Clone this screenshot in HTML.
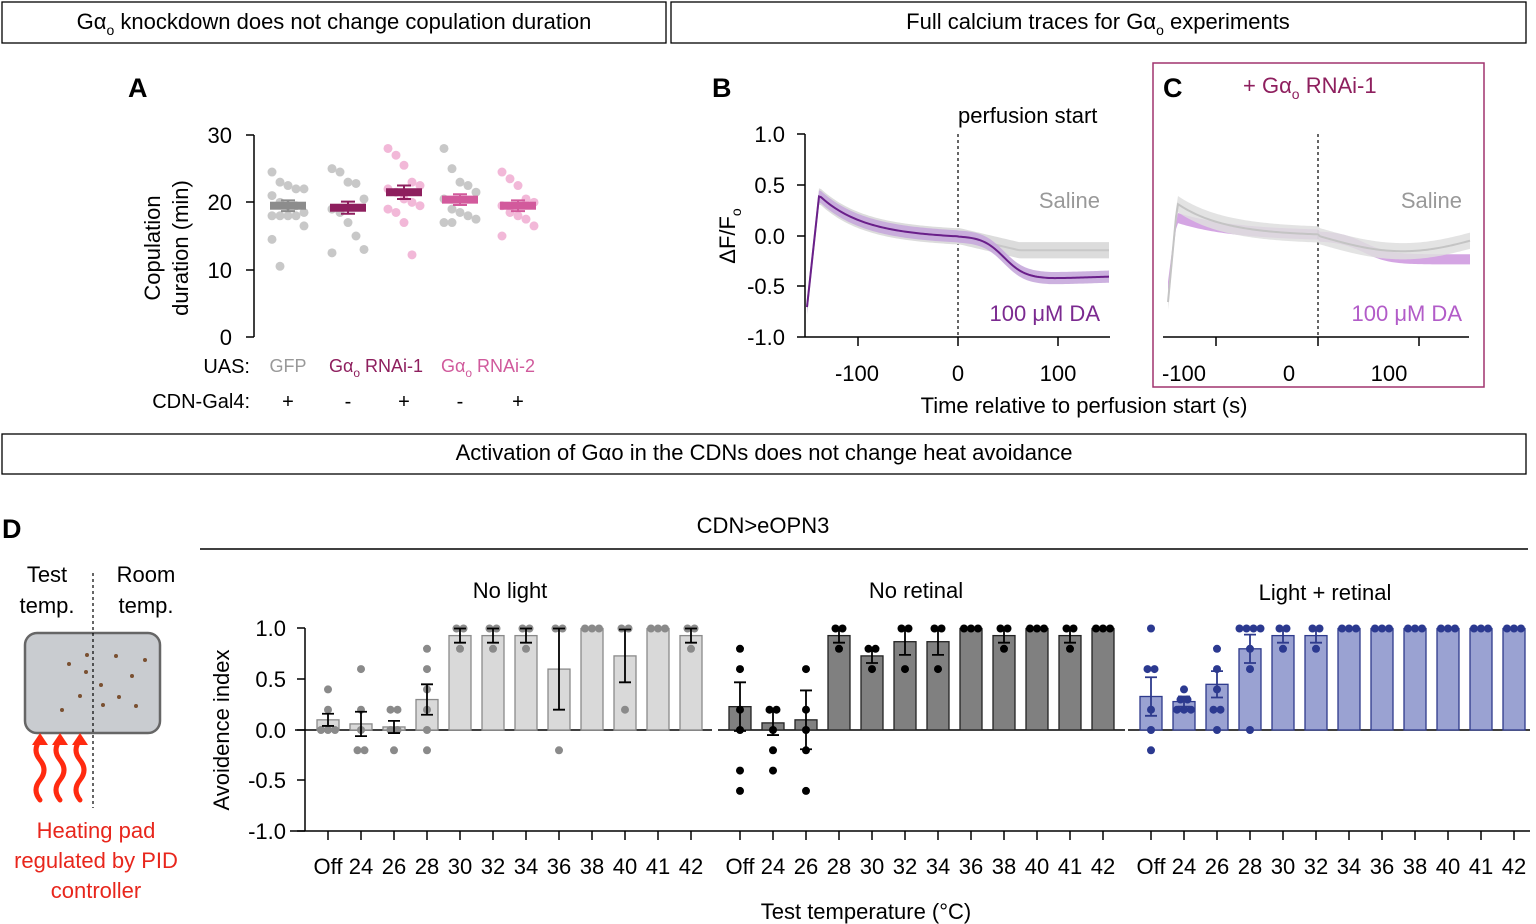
<!DOCTYPE html>
<html><head><meta charset="utf-8"><style>
body{margin:0;background:#fff;width:1536px;height:924px;overflow:hidden}
svg{display:block;font-family:"Liberation Sans",Arial,sans-serif}
</style></head><body>
<svg id="s" width="1536" height="924" viewBox="0 0 1536 924" xmlns="http://www.w3.org/2000/svg">
<g fill="none" stroke="#000" stroke-width="1.3">
<rect x="2" y="2" width="664" height="41"/>
<rect x="671" y="2" width="855" height="41"/>
<rect x="2" y="434" width="1524" height="40"/>
</g>
<g font-size="22" text-anchor="middle" fill="#000">
<text x="334" y="29">Gα<tspan font-size="14" dy="6">o</tspan><tspan dy="-6"> knockdown does not change copulation duration</tspan></text>
<text x="1098" y="29">Full calcium traces for Gα<tspan font-size="14" dy="6">o</tspan><tspan dy="-6"> experiments</tspan></text>
<text x="764" y="460">Activation of Gαo in the CDNs does not change heat avoidance</text>
</g>
<g font-size="27" font-weight="bold"><text x="128" y="97">A</text><text x="712" y="97">B</text><text x="1163" y="97">C</text><text x="2" y="538">D</text></g>
<!-- Panel A -->
<g stroke="#000" stroke-width="1.5"><line x1="254" y1="135" x2="254" y2="337"/>
<line x1="246" y1="135" x2="254" y2="135"/><line x1="246" y1="202" x2="254" y2="202"/><line x1="246" y1="270" x2="254" y2="270"/><line x1="246" y1="337" x2="254" y2="337"/></g>
<g font-size="22" text-anchor="end"><text x="232" y="143">30</text><text x="232" y="210">20</text><text x="232" y="278">10</text><text x="232" y="345">0</text></g>
<text transform="translate(160,248) rotate(-90)" font-size="22" text-anchor="middle">Copulation</text>
<text transform="translate(188,248) rotate(-90)" font-size="22" text-anchor="middle">duration (min)</text>
<g id="A"></g>
<g font-size="20"><text x="250" y="373" text-anchor="end">UAS:</text>
<text x="288" y="372" text-anchor="middle" fill="#999" font-size="18">GFP</text>
<text x="376" y="372" text-anchor="middle" fill="#8e1f5e" font-size="18">Gα<tspan font-size="12" dy="5">o</tspan><tspan dy="-5"> RNAi-1</tspan></text>
<text x="488" y="372" text-anchor="middle" fill="#d05a9c" font-size="18">Gα<tspan font-size="12" dy="5">o</tspan><tspan dy="-5"> RNAi-2</tspan></text>
<text x="250" y="408" text-anchor="end">CDN-Gal4:</text>
<g text-anchor="middle"><text x="288" y="408">+</text><text x="348" y="408">-</text><text x="404" y="408">+</text><text x="460" y="408">-</text><text x="518" y="408">+</text></g></g>
<!-- Panel B/C -->
<rect x="1153" y="63" width="331" height="324" fill="none" stroke="#a0336e" stroke-width="1.5"/>
<text x="1243" y="93" font-size="22" fill="#8e1f5e">+ Gα<tspan font-size="14" dy="6">o</tspan><tspan dy="-6"> RNAi-1</tspan></text>
<g stroke="#000" stroke-width="1.5"><line x1="805" y1="134" x2="805" y2="337"/><line x1="805" y1="337" x2="1110" y2="337"/>
<line x1="797" y1="134" x2="805" y2="134"/><line x1="797" y1="185" x2="805" y2="185"/><line x1="797" y1="236" x2="805" y2="236"/><line x1="797" y1="286" x2="805" y2="286"/><line x1="797" y1="337" x2="805" y2="337"/>
<line x1="858" y1="337" x2="858" y2="346"/><line x1="958" y1="337" x2="958" y2="346"/><line x1="1058" y1="337" x2="1058" y2="346"/>
<line x1="1163" y1="337" x2="1469" y2="337"/><line x1="1216" y1="337" x2="1216" y2="346"/><line x1="1318" y1="337" x2="1318" y2="346"/><line x1="1419" y1="337" x2="1419" y2="346"/></g>
<g stroke="#000" stroke-dasharray="3,3" stroke-width="1.2"><line x1="958" y1="134" x2="958" y2="337"/><line x1="1318" y1="134" x2="1318" y2="337"/></g>
<g font-size="22" text-anchor="end"><text x="785" y="142">1.0</text><text x="785" y="193">0.5</text><text x="785" y="244">0.0</text><text x="785" y="294">-0.5</text><text x="785" y="345">-1.0</text></g>
<g font-size="22" text-anchor="middle"><text x="857" y="381">-100</text><text x="958" y="381">0</text><text x="1058" y="381">100</text>
<text x="1184" y="381">-100</text><text x="1289" y="381">0</text><text x="1389" y="381">100</text>
<text x="1084" y="413">Time relative to perfusion start (s)</text></g>
<text x="958" y="123" font-size="22">perfusion start</text>
<text transform="translate(735,236) rotate(-90)" font-size="22" text-anchor="middle">ΔF/F<tspan font-size="14" dy="6">o</tspan></text>
<g font-size="22" text-anchor="end"><text x="1100" y="208" fill="#999">Saline</text><text x="1100" y="321" fill="#7b2a90">100 μM DA</text>
<text x="1462" y="208" fill="#999">Saline</text><text x="1462" y="321" fill="#b25cc8">100 μM DA</text></g>
<g id="BC"></g>
<!-- Panel D -->
<text x="763" y="533" font-size="22" text-anchor="middle">CDN&gt;eOPN3</text>
<line x1="200" y1="549" x2="1528" y2="549" stroke="#000" stroke-width="1.5"/>
<g font-size="22" text-anchor="middle"><text x="47" y="582">Test</text><text x="47" y="613">temp.</text><text x="146" y="582">Room</text><text x="146" y="613">temp.</text>
<text x="510" y="598">No light</text><text x="916" y="598">No retinal</text><text x="1325" y="600">Light + retinal</text>
<g fill="#e8261c"><text x="96" y="838">Heating pad</text><text x="96" y="868">regulated by PID</text><text x="96" y="898">controller</text></g>
<text x="866" y="919">Test temperature (°C)</text></g>
<rect x="25" y="633" width="135" height="100" rx="12" fill="#c9ccd0" stroke="#666" stroke-width="2.5"/>
<line x1="93" y1="573" x2="93" y2="808" stroke="#000" stroke-dasharray="3,3" stroke-width="1.2"/>
<g fill="#7a5030"><circle cx="69" cy="664" r="2"/><circle cx="87" cy="655" r="2"/><circle cx="86" cy="672" r="2"/><circle cx="101" cy="685" r="2"/><circle cx="116" cy="656" r="2"/><circle cx="145" cy="660" r="2"/><circle cx="132" cy="676" r="2"/><circle cx="80" cy="696" r="2"/><circle cx="119" cy="697" r="2"/><circle cx="62" cy="710" r="2"/><circle cx="103" cy="705" r="2"/><circle cx="136" cy="706" r="2"/></g>
<g stroke="#ff2a10" stroke-width="5" fill="none" stroke-linecap="round">
<path d="M40 800 q-8 -10 0 -20 q8 -10 0 -20 q-8 -10 0 -20"/><path d="M60 800 q-8 -10 0 -20 q8 -10 0 -20 q-8 -10 0 -20"/><path d="M80 800 q-8 -10 0 -20 q8 -10 0 -20 q-8 -10 0 -20"/></g>
<g fill="#ff2a10"><path d="M32 745 l8 -12 l8 12z"/><path d="M52 745 l8 -12 l8 12z"/><path d="M72 745 l8 -12 l8 12z"/></g>
<g stroke="#000" stroke-width="1.5"><line x1="305" y1="628" x2="305" y2="831"/><line x1="290" y1="831" x2="1530" y2="831"/>
<line x1="297" y1="628" x2="305" y2="628"/><line x1="297" y1="679" x2="305" y2="679"/><line x1="297" y1="730" x2="305" y2="730"/><line x1="297" y1="780" x2="305" y2="780"/><line x1="297" y1="831" x2="305" y2="831"/></g>
<g font-size="22" text-anchor="end"><text x="286" y="636">1.0</text><text x="286" y="687">0.5</text><text x="286" y="738">0.0</text><text x="286" y="788">-0.5</text><text x="286" y="839">-1.0</text></g>
<text transform="translate(229,730) rotate(-90)" font-size="22" text-anchor="middle">Avoidence index</text>
<g id="D"></g>
</svg>
<script>
var NS="http://www.w3.org/2000/svg";
function el(p,t,a){var e=document.createElementNS(NS,t);for(var k in a)e.setAttribute(k,a[k]);p.appendChild(e);return e;}
// Panel A
var A=document.getElementById("A");
var ay=function(v){return 337-v*6.733;};
var grp=[[288,19.5,0.8,"#8c8c8c","#c8c8c8",[24.5,23,22.5,22,22,21,20,19.5,19.5,18.5,18,18,18,18,16.5,14.5,10.5]],
[348,19.2,0.9,"#8e1f5e","#c8c8c8",[25,24.5,23,22.8,20.5,19,18.5,17,15,13,12.5]],
[404,21.5,1,"#8e1f5e","#f2b8d8",[28,27,25.5,23,22.5,22,21.5,20.5,20,19.5,19,18.5,17,12.2]],
[460,20.4,0.8,"#d25a9c","#c8c8c8",[28,25,23,22.5,21.5,20.5,19,18.5,18,17.5,17,17]],
[518,19.5,0.8,"#d25a9c","#f2b8d8",[24.5,23.5,22.5,20.5,20,19.5,18.5,18,17.5,16.5,15]]];
grp.forEach(function(g){var x=g[0];
 g[5].forEach(function(v,i){var off=((i%5)-2)*8;el(A,"circle",{cx:x+off,cy:ay(v),r:4.5,fill:g[4]});});
 el(A,"rect",{x:x-18,y:ay(g[1])-4,width:36,height:8,fill:g[3]});
 el(A,"path",{d:"M"+(x-7)+" "+ay(g[1]+g[2])+"h14M"+x+" "+ay(g[1]+g[2])+"V"+ay(g[1]-g[2])+"M"+(x-7)+" "+ay(g[1]-g[2])+"h14",stroke:g[3],"stroke-width":2,fill:"none"});});
// Panels B/C traces
var BC=document.getElementById("BC");
function trace(x0,x1,f,sd,fill,line,op){var up=[],dn=[],ln=[];for(var x=x0;x<=x1;x+=2){var v=f((x-x0)/(x1-x0));var y=236-v*101.5;up.push(x+","+(y-sd*101.5));dn.unshift(x+","+(y+sd*101.5));ln.push(x+","+y);}
 el(BC,"polygon",{points:up.concat(dn).join(" "),fill:fill,opacity:op});
 if(line)el(BC,"polyline",{points:ln.join(" "),fill:"none",stroke:line,"stroke-width":2});}
function base(t){ if(t<0.04)return -0.7+t/0.04*1.1; if(t<0.5){var u=(t-0.04)/0.46;return 0.4*Math.exp(-u*3.2)-0.02*u;} return 0;}
var salB=function(t){if(t<0.5)return base(t); var u=(t-0.5)/0.5;return -0.14*Math.min(1,u*2.5);};
var daB=function(t){if(t<0.5)return base(t); var u=(t-0.5)/0.5;return -0.42/(1+Math.exp(-(u-0.3)*14))+ (u>0.6?0.05*(u-0.6):0);};
trace(807,1110,salB,0.08,"#dcdcdc","#c8c8c8",1);
trace(807,1110,daB,0.06,"#c7a8dc","#6a1f8a",0.9);
var salC=function(t){if(t<0.03)return -0.65+t/0.03*0.95;if(t<0.5){var u=(t-0.03)/0.47;return 0.32*Math.exp(-u*3)-0.0;} var u=(t-0.5)/0.5;return -0.15*Math.sin(u*Math.PI*0.9);};
var daC=function(t){if(t<0.03)return -0.5+t/0.03*0.7;if(t<0.5){var u=(t-0.03)/0.47;return 0.18*Math.exp(-u*2.5);} var u=(t-0.5)/0.5;return -0.23/(1+Math.exp(-(u-0.3)*12));};
trace(1168,1470,daC,0.05,"#c98fdc",null,0.8);
trace(1168,1470,salC,0.08,"#dedede","#c4c4c4",0.85);
// Panel D
var D=document.getElementById("D");
var dy=function(v){return 730-v*101.5;};
var labs=["Off","24","26","28","30","32","34","36","38","40","41","42"];
var sets=[[328,[0.1,0.06,0.03,0.3,0.93,0.93,0.93,0.6,1,0.73,1,0.93],[0.06,0.12,0.06,0.15,0.07,0.07,0.07,0.4,0,0.26,0,0.07],"#d9d9d9","#8a8a8a","#8a8a8a",295,712],
[740,[0.23,0.07,0.1,0.93,0.73,0.87,0.87,1,0.93,1,0.93,1],[0.24,0.12,0.29,0.07,0.07,0.13,0.13,0,0.07,0,0.07,0],"#808080","#222","#000",718,1125],
[1151,[0.33,0.28,0.45,0.8,0.93,0.93,1,1,1,1,1,1],[0.19,0.05,0.13,0.14,0.07,0.07,0,0,0,0,0,0],"#9aa2d2","#2e3a8c","#2b3990",1128,1530]];
var dots=[[[0.4,0.2,0,0,0],[0.6,0.2,0,-0.2,-0.2],[0.2,0.2,0,0,-0.2],[0.8,0.6,0.4,0.2,0,-0.2],[1,1,0.8],[1,1,0.8],[1,1,0.8],[1,1,-0.2],[1,1,1],[1,1,0.2],[1,1,1],[1,1,0.8]],
[[0.8,0.6,0.2,0,-0.4,-0.6],[0.2,0.2,0,-0.2,-0.4],[0.6,0.2,0,-0.2,-0.6],[1,1,0.8],[0.8,0.8,0.6],[1,1,0.6],[1,1,0.6],[1,1,1],[1,1,0.8],[1,1,1],[1,1,0.8],[1,1,1]],
[[1,0.6,0.6,0.2,0,-0.2],[0.4,0.3,0.3,0.2,0.2,0.2],[0.8,0.6,0.4,0.2,0.2,0],[1,1,1,1,0.8,0.6,0],[1,1,0.8],[1,1,0.8],[1,1,1],[1,1,1],[1,1,1],[1,1,1],[1,1,1],[1,1,1]]];
sets.forEach(function(s,si){
 el(D,"line",{x1:s[6],y1:730,x2:s[7],y2:730,stroke:"#000","stroke-width":1.5});
 for(var i=0;i<12;i++){var x=s[0]+i*33,v=s[1][i],e=s[2][i];
  el(D,"rect",{x:x-11,y:dy(Math.max(v,0)),width:22,height:Math.abs(dy(v)-730),fill:s[3],stroke:s[4],"stroke-width":1.3});
  var ds=dots[si][i];var cnt={};
  ds.forEach(function(d,j){var k=d.toFixed(1);cnt[k]=(cnt[k]||0);var n=ds.filter(function(z){return z.toFixed(1)==k;}).length;var off=(cnt[k]-(n-1)/2)*7;cnt[k]++;el(D,"circle",{cx:x+off,cy:dy(d),r:4,fill:s[5]});});
  if(e>0){el(D,"path",{d:"M"+(x-6)+" "+dy(v+e)+"h12M"+x+" "+dy(v+e)+"V"+dy(v-e)+"M"+(x-6)+" "+dy(v-e)+"h12",stroke:si==2?"#2e3a8c":"#000","stroke-width":1.8,fill:"none"});}
  el(D,"line",{x1:x,y1:831,x2:x,y2:840,stroke:"#000","stroke-width":1.5});
  var t=el(D,"text",{x:x,y:874,"font-size":22,"text-anchor":"middle"});t.textContent=labs[i];
 }});
</script>
</body></html>
